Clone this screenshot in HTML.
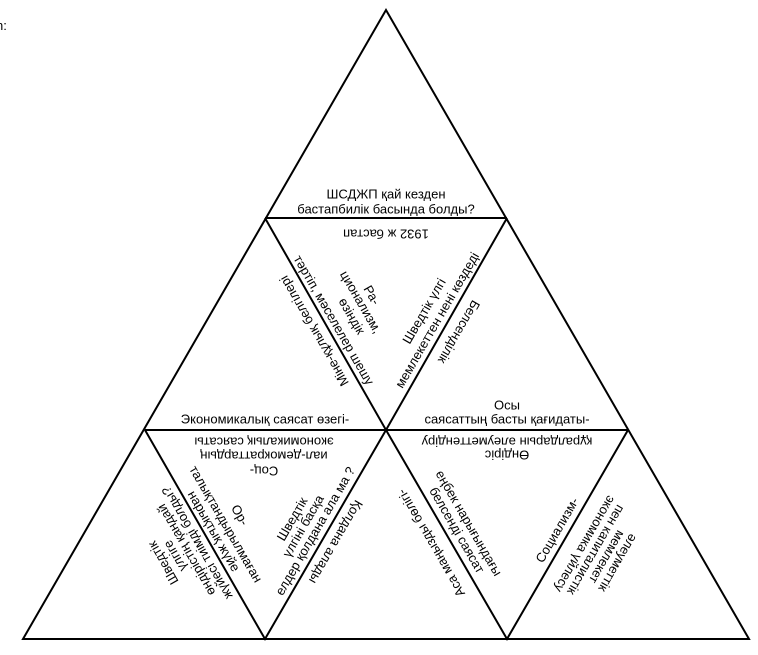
<!DOCTYPE html>
<html><head><meta charset="utf-8"><style>
html,body{margin:0;padding:0;background:#fff;width:758px;height:655px;overflow:hidden}
svg text{font-family:"Liberation Sans","DejaVu Sans",sans-serif;font-size:13px;fill:#000}
</style></head><body>
<svg width="758" height="655" viewBox="0 0 758 655" xmlns="http://www.w3.org/2000/svg">
<g stroke="#000" stroke-width="2" fill="none" stroke-linejoin="miter">
<polygon points="386,10 23,639 749,639"/>
<line x1="265" y1="218" x2="507" y2="218"/>
<line x1="145" y1="430" x2="628" y2="430"/>
<polyline points="265,218 386,430 507,218"/>
<polyline points="145,430 265,639 386,430 507,639 628,430"/>
</g>
<text x="-4" y="30" style="font-size:13px">n:</text>
<g text-anchor="middle" dominant-baseline="central">
<text x="386" y="194">ШСДЖП қай кезден</text>
<text x="386" y="209">бастапбилік басында болды?</text>
<text transform="translate(386,234) rotate(180)">1932 ж бастап</text>

<text transform="translate(314,331) rotate(-120)">Міне-құлық белгілері</text>
<text transform="translate(372,295) rotate(60)">Ра-</text>
<text transform="translate(361,302) rotate(60)">ционализм,</text>
<text transform="translate(352,316) rotate(60)">өзіндік</text>
<text transform="translate(334,320) rotate(60)">тәртіп, мәселелер шешу</text>

<text transform="translate(424,311) rotate(-60)">Шведтік үлгі</text>
<text transform="translate(437,320) rotate(-60)">мемлекеттен нені көздеді</text>
<text transform="translate(459,332) rotate(120)">Белсенділік</text>

<text x="265" y="419">Экономикалық саясат өзегі-</text>
<text x="507" y="405">Осы</text>
<text x="507" y="419">саясаттың басты қағидаты-</text>

<text transform="translate(264,442) rotate(180)">экономикалық саясаты</text>
<text transform="translate(264,456) rotate(180)">иал-демократтардың</text>
<text transform="translate(264,471) rotate(180)">Соц-</text>

<text transform="translate(240,515) rotate(60)">Ор-</text>
<text transform="translate(226,524) rotate(60)">талықтандырылмаған</text>
<text transform="translate(214,531) rotate(60)">нарықтық жүйе</text>

<text transform="translate(163,563) rotate(-120)">Шведтік</text>
<text transform="translate(175,556) rotate(-120)">үлгіге</text>
<text transform="translate(186,550) rotate(-120)">өндірістің қандай</text>
<text transform="translate(197,543) rotate(-120)">жүйесі тиімді болды?</text>

<text transform="translate(292,519) rotate(-60)">Шведтік</text>
<text transform="translate(303,526) rotate(-60)">үлгіні басқа</text>
<text transform="translate(315,531) rotate(-60)">елдер қолдана ала ма ?</text>
<text transform="translate(336,542) rotate(120)">Қолдана алады</text>

<text transform="translate(507,455) rotate(180)">Өндіріс</text>
<text transform="translate(507,442) rotate(180)">құралдарын әлеуметтендіру</text>

<text transform="translate(469,523) rotate(60)">еңбек нарығындағы</text>
<text transform="translate(457,530) rotate(60)">белсенді саясат</text>
<text transform="translate(431,543) rotate(-120)">Аса маңызды бөлігі-</text>

<text transform="translate(557,530) rotate(-60)">Социализм-</text>
<text transform="translate(585,544) rotate(120)">экономика үйлесу</text>
<text transform="translate(596,550) rotate(120)">пен капиталистік</text>
<text transform="translate(607,557) rotate(120)">мемлекет</text>
<text transform="translate(618,563) rotate(120)">әлеуметтік</text>
</g>
</svg>
</body></html>
